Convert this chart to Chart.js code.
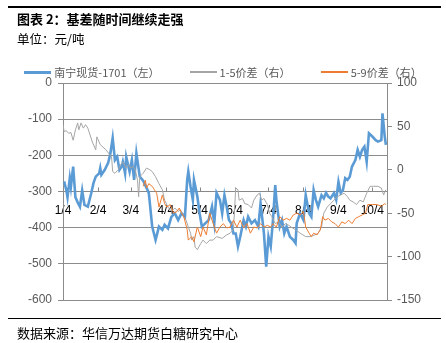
<!DOCTYPE html>
<html>
<head>
<meta charset="utf-8">
<script src="https://cdn.jsdelivr.net/npm/chart.js@4/dist/chart.umd.min.js"></script>
<style>
  body { margin: 0; background: #fff; }
  #wrap { position: relative; width: 446px; height: 343px; font-family: "Noto Sans CJK SC", sans-serif; }
  #wrap canvas { position: absolute; left: 0; top: 0; }
  .rule { position: absolute; left: 8px; width: 433px; background: #000; }
  .txt { position: absolute; left: 17px; color: #000; white-space: nowrap; }
  #legend { position: absolute; left: 0; top: 64px; width: 446px; display: flex; justify-content: center; }
  #legend .item { display: flex; align-items: center; margin: 0 15px; font-size: 11px; color: #595959; }
  #legend .line { width: 27px; margin-right: 3px; }
</style>
</head>
<body>
<div id="wrap">
  <canvas id="myChart" width="446" height="343"></canvas>
  <div class="rule" style="top:6px;height:2px"></div>
  <div class="txt" style="top:9px;font-size:13px;font-weight:bold">图表 2：基差随时间继续走强</div>
  <div class="txt" style="top:29px;font-size:12.5px">单位：元/吨</div>
  <div id="legend"></div>
  <div class="rule" style="top:318px;height:1px"></div>
  <div class="txt" style="top:323px;font-size:13px">数据来源：华信万达期货白糖研究中心</div>
</div>
<script>
// x values are day of year (2016)
const monthDays = [4, 35, 64, 95, 125, 156, 186, 217, 248, 278];
const monthLabels = ['1/4', '2/4', '3/4', '4/4', '5/4', '6/4', '7/4', '8/4', '9/4', '10/4'];

// 南宁现货-1701 (left axis)
const spotDays = [5, 7, 8, 10, 11, 13, 15, 17, 19, 21, 23, 26, 29, 31, 33, 36, 37, 38, 41, 44,
  46, 48, 50, 52, 54, 56, 57, 59, 60, 63, 65, 67, 69, 72, 75, 78, 80, 83, 86, 89,
  92, 94, 97, 100, 103, 106, 109, 112, 114, 115, 117, 119, 120, 123, 125, 127, 130, 133, 136, 138,
  140, 143, 145, 147, 149, 151, 153, 155, 157, 159, 161, 164, 166, 168, 171, 174, 177, 179, 182, 184,
  186, 188, 190, 192, 193, 196, 198, 200, 202, 205, 208, 210, 211, 214, 217, 219, 222, 224, 226, 228,
  230, 233, 235, 237, 239, 241, 244, 246, 248, 250, 252, 254, 256, 258, 260, 263, 265, 267, 269, 271,
  273, 275, 278, 281, 283, 286, 287, 289, 290];
const spotValues = [-272, -297, -316, -263, -287, -231, -316, -330, -342, -297, -337, -342, -305, -277, -259, -250, -235, -254, -240, -221,
  -194, -152, -213, -204, -240, -231, -218, -250, -204, -245, -213, -268, -194, -259, -270, -290, -304, -397, -434, -397,
  -406, -392, -402, -370, -360, -379, -360, -370, -268, -245, -287, -323, -268, -314, -360, -397, -388, -379, -342, -388,
  -304, -323, -360, -310, -342, -379, -388, -416, -416, -452, -425, -379, -397, -370, -388, -379, -397, -333, -416, -508,
  -425, -452, -379, -282, -323, -397, -379, -416, -397, -425, -434, -443, -388, -360, -379, -310, -360, -370, -296, -323,
  -342, -310, -319, -304, -314, -319, -304, -323, -273, -304, -296, -263, -268, -259, -231, -213, -185, -204, -185, -176,
  -218, -139, -148, -158, -162, -158, -84, -148, -171];

// 1-5价差 (right axis)
const spread15Days = [4, 5, 7, 9, 11, 13, 15, 17, 18, 20, 22, 24, 26, 30, 33, 34, 37, 42, 47, 48,
  50, 53, 55, 57, 60, 62, 64, 66, 68, 70, 71, 72, 75, 78, 81, 83, 86, 89, 92, 94,
  97, 100, 103, 106, 108, 111, 113, 115, 117, 118, 120, 121, 123, 126, 128, 131, 134, 137, 140, 145,
  149, 152, 155, 157, 159, 160, 163, 165, 168, 171, 173, 176, 178, 180, 182, 185, 187, 189, 192, 195,
  198, 201, 204, 206, 210, 214, 219, 223, 227, 230, 233, 235, 238, 241, 244, 247, 250, 253, 256, 258,
  261, 264, 267, 270, 273, 276, 279, 283, 286, 288, 290];
const spread15Values = [52, 44, 45, 42, 43, 34, 46, 54, 46, 54, 48, 52, 48, 32, 23, 38, 29, 23, 15, -2,
  -4, 0, 6, 9, 2, 6, 2, 4, 0, -12, -31, -8, -4, 2, 0, -2, -8, -16, -23, -35,
  -43, -48, -44, -48, -46, -54, -58, -66, -73, -81, -77, -89, -92, -85, -81, -85, -81, -81, -77, -79,
  -75, -73, -69, -21, -23, -35, -33, -39, -40, -44, -35, -29, -27, -35, -33, -40, -50, -54, -62, -60,
  -66, -62, -64, -66, -69, -73, -77, -77, -75, -73, -66, -50, -43, -39, -35, -31, -29, -27, -31, -35,
  -37, -40, -35, -37, -27, -19, -19, -19, -21, -29, -23];

// 5-9价差 (right axis)
const spread59Days = [75, 77, 78, 80, 83, 85, 87, 89, 92, 94, 96, 99, 102, 105, 107, 109, 111, 114, 115, 118,
  120, 123, 126, 128, 131, 134, 137, 140, 143, 146, 149, 152, 155, 158, 161, 164, 167, 170, 173, 176,
  179, 182, 185, 188, 190, 193, 196, 199, 202, 205, 208, 211, 214, 217, 219, 222, 224, 226, 229, 232,
  234, 236, 239, 242, 245, 248, 251, 254, 257, 260, 263, 266, 269, 272, 274, 278, 282, 286, 289, 290];
const spread59Values = [-19, -12, -21, -16, -19, -23, -27, -43, -29, -39, -43, -40, -50, -48, -44, -50, -54, -69, -81, -77,
  -83, -66, -77, -66, -75, -50, -62, -73, -66, -62, -67, -66, -58, -66, -58, -67, -62, -73, -66, -67,
  -62, -66, -64, -66, -62, -66, -54, -58, -56, -58, -52, -50, -52, -48, -66, -73, -77, -73, -75, -69,
  -54, -58, -56, -60, -62, -66, -60, -62, -58, -62, -56, -54, -52, -50, -40, -40, -40, -42, -39, -40];

const toPoints = (days, values) => days.map((d, i) => ({ x: d, y: values[i] }));

// build the legend in html so the spacing can follow the picture
const htmlLegend = {
  id: 'htmlLegend',
  afterUpdate(chart) {
    const box = document.getElementById('legend');
    box.innerHTML = '';
    chart.data.datasets.forEach((ds) => {
      const item = document.createElement('div');
      item.className = 'item';
      const line = document.createElement('span');
      line.className = 'line';
      line.style.height = (ds.borderWidth > 1 ? 3 : 1.5) + 'px';
      line.style.background = ds.borderColor;
      const text = document.createElement('span');
      text.textContent = ds.label;
      item.appendChild(line);
      item.appendChild(text);
      box.appendChild(item);
    });
  },
};

// small tick marks pointing up from the category axis
const upTicks = {
  id: 'upTicks',
  beforeDatasetsDraw(chart) {
    const { ctx, scales } = chart;
    const y0 = scales.y.getPixelForValue(-300);
    ctx.save();
    ctx.strokeStyle = '#888888';
    ctx.lineWidth = 1;
    monthDays.forEach((d) => {
      const px = Math.round(scales.x.getPixelForValue(d)) + 0.5;
      ctx.beginPath();
      ctx.moveTo(px, y0);
      ctx.lineTo(px, y0 - 4);
      ctx.stroke();
    });
    ctx.restore();
  },
};

const chart = new Chart(document.getElementById('myChart').getContext('2d'), {
  type: 'line',
  data: {
    datasets: [
      {
        label: '南宁现货-1701（左）',
        data: toPoints(spotDays, spotValues),
        yAxisID: 'y',
        borderColor: '#5B9BD5',
        borderWidth: 2.6,
        order: 3,
      },
      {
        label: '1-5价差（右）',
        data: toPoints(spread15Days, spread15Values),
        yAxisID: 'y1',
        borderColor: '#A5A5A5',
        borderWidth: 1,
        order: 2,
      },
      {
        label: '5-9价差（右）',
        data: toPoints(spread59Days, spread59Values),
        yAxisID: 'y1',
        borderColor: '#ED7D31',
        borderWidth: 1,
        order: 1,
      },
    ],
  },
  options: {
    responsive: false,
    animation: false,
    layout: { padding: { top: 83, bottom: 43, left: 0, right: 0 } },
    elements: { point: { radius: 0 }, line: { tension: 0 } },
    plugins: {
      legend: { display: false },
      tooltip: { enabled: false },
    },
    scales: {
      x: {
        type: 'linear',
        position: { y: -300 },
        min: 4,
        max: 291,
        afterBuildTicks: (scale) => {
          scale.ticks = monthDays.map((v) => ({ value: v }));
        },
        grid: { drawOnChartArea: false, drawTicks: false },
        border: { color: '#888888' },
        ticks: {
          autoSkip: false,
          maxRotation: 0,
          padding: 12,
          color: '#000',
          font: { size: 12, family: 'Liberation Sans' },
          callback: (v) => monthLabels[monthDays.indexOf(v)],
        },
      },
      y: {
        position: 'left',
        min: -600,
        max: 0,
        afterFit: (scale) => { scale.width = 63; },
        grid: { color: '#8C8C8C', tickLength: 5 },
        border: { color: '#8C8C8C' },
        ticks: {
          stepSize: 100,
          padding: 6,
          color: '#595959',
          font: { size: 12, family: 'Liberation Sans' },
        },
      },
      y1: {
        position: 'right',
        min: -150,
        max: 100,
        afterFit: (scale) => { scale.width = 59; },
        grid: { drawOnChartArea: false, color: '#8C8C8C', tickLength: 5 },
        border: { color: '#8C8C8C' },
        ticks: {
          stepSize: 50,
          padding: 5,
          color: '#595959',
          font: { size: 12, family: 'Liberation Sans' },
        },
      },
    },
  },
  plugins: [htmlLegend, upTicks],
});
</script>
</body>
</html>
